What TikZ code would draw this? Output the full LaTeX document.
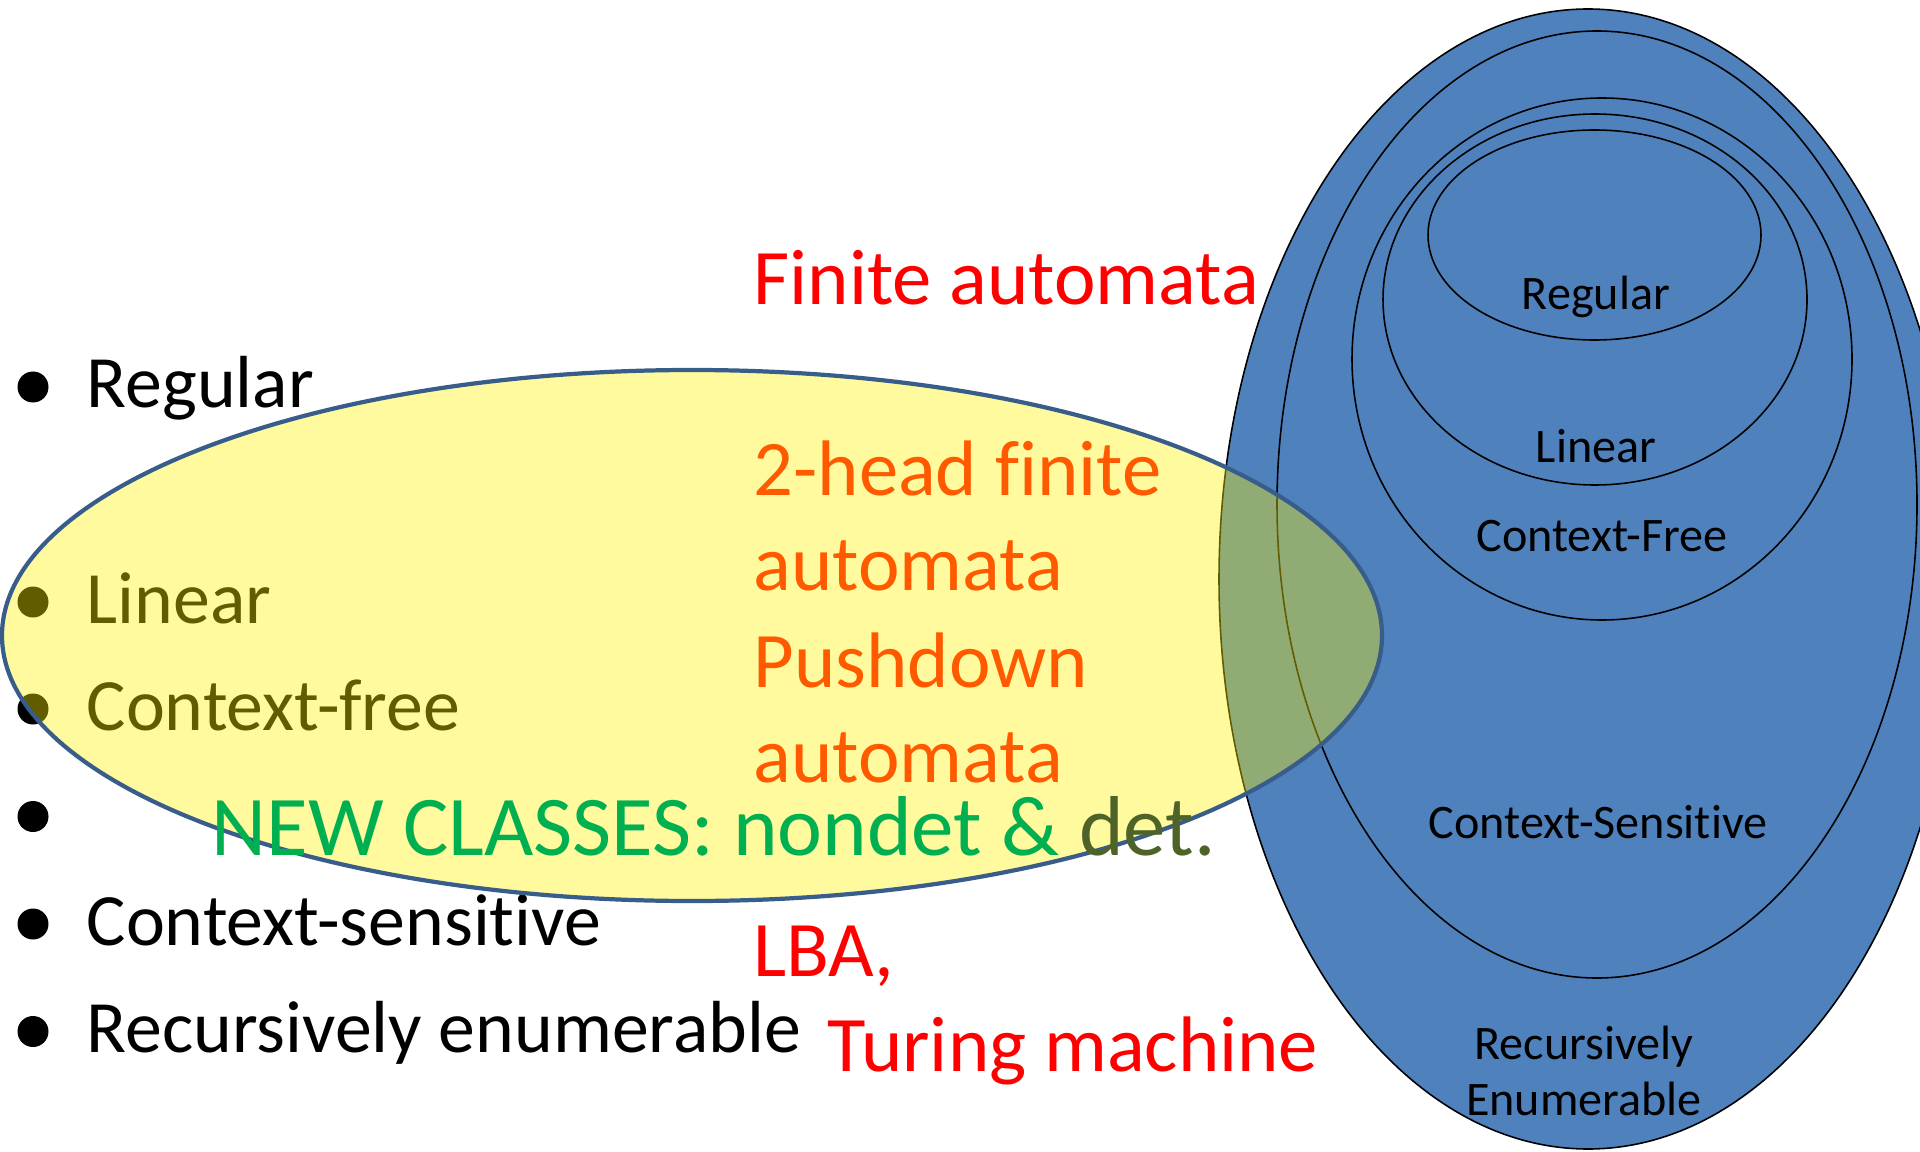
\documentclass[tikz,border=0pt]{standalone}
\usepackage{fontspec}
\setmainfont{Carlito}[Ligatures=NoCommon]
\usepackage{xcolor}
\usetikzlibrary{positioning}

\definecolor{setblue}{RGB}{79,129,189}
\definecolor{setedge}{RGB}{56,93,138}
\definecolor{machred}{RGB}{255,0,0}
\definecolor{machorange}{RGB}{255,90,0}
\definecolor{newgreen}{RGB}{0,176,80}
\definecolor{detolive}{RGB}{79,98,40}

\begin{document}
\begin{tikzpicture}[
    classset/.style={draw=black, line width=0.45pt},
    dot/.style={circle, fill=black, inner sep=0pt, minimum size=0.31cm},
    item/.style={anchor=base west, inner sep=0pt, font=\fontsize{21}{25}\selectfont},
    machine/.style={anchor=base west, inner sep=0pt, font=\fontsize{22.4}{27}\selectfont},
    setlabel/.style={align=center, inner sep=0pt, font=\fontsize{13.7}{16}\selectfont}
]
\useasboundingbox (0,0) rectangle (19.2,11.51);

% Chomsky hierarchy
\fill[setblue] (15.88,5.72) ellipse [x radius=3.69, y radius=5.70];
\draw[classset] (15.88,5.72) ellipse [x radius=3.69, y radius=5.70];
\draw[classset] (15.97,6.465) ellipse [x radius=3.20, y radius=4.735];
\draw[classset] (16.02,7.92) ellipse [x radius=2.50, y radius=2.61];
\draw[classset] (15.95,8.515) ellipse [x radius=2.12, y radius=1.855];
\draw[classset] (15.945,9.16) ellipse [x radius=1.665, y radius=1.05];

\node[setlabel] (lreg) at (15.96,8.54) {Regular};
\node[setlabel] (llin) at (15.96,7.05) {Linear};
\node[setlabel] (lcf) at (16.02,6.15) {Context-Free};
\node[setlabel] (lcs) at (15.98,3.29) {Context-Sensitive};
\node[setlabel] (lre) at (15.84,0.80) {Recursively\\Enumerable};

% Bullet list
\node[dot] (d1) at (0.33,7.64) {};
\node[dot] (d2) at (0.33,5.49) {};
\node[dot] (d3) at (0.33,4.42) {};
\node[dot] (d4) at (0.33,3.345) {};
\node[dot] (d5) at (0.33,2.27) {};
\node[dot] (d6) at (0.33,1.195) {};

\node[item] (t1) at (0.86,7.43) {Regular};
\node[item] (t2) at (0.86,5.28) {Linear};
\node[item] (t3) at (0.86,4.21) {Context-free};
\node[item] (t5) at (0.86,2.06) {Context-sensitive};
\node[item] (t6) at (0.86,0.985) {Recursively enumerable};

% New classes
\filldraw[fill=yellow, fill opacity=0.38, draw=setedge, line width=1.2pt]
    (6.92,5.155) ellipse [x radius=6.90, y radius=2.655];

% Machines
\node[machine, text=machred] (fa) at (7.53,8.47) {Finite automata};
\node[machine, text=machorange] (hfa1) at (7.53,6.56) {2-head finite};
\node[machine, text=machorange] (hfa2) at (7.53,5.61) {automata};
\node[machine, text=machorange] (pda1) at (7.53,4.64) {Pushdown};
\node[machine, text=machorange] (pda2) at (7.53,3.69) {automata};
\node[machine, text=machred] (lba) at (7.53,1.75) {LBA,};
\node[machine, text=machred] (tm) at (8.27,0.80) {Turing machine};

\node[anchor=base west, inner sep=0pt, font=\fontsize{24.2}{29}\selectfont] (new) at (2.11,2.96)
    {\textcolor{newgreen}{NEW CLASSES: nondet \&} \textcolor{detolive}{det.}};

\end{tikzpicture}
\end{document}
